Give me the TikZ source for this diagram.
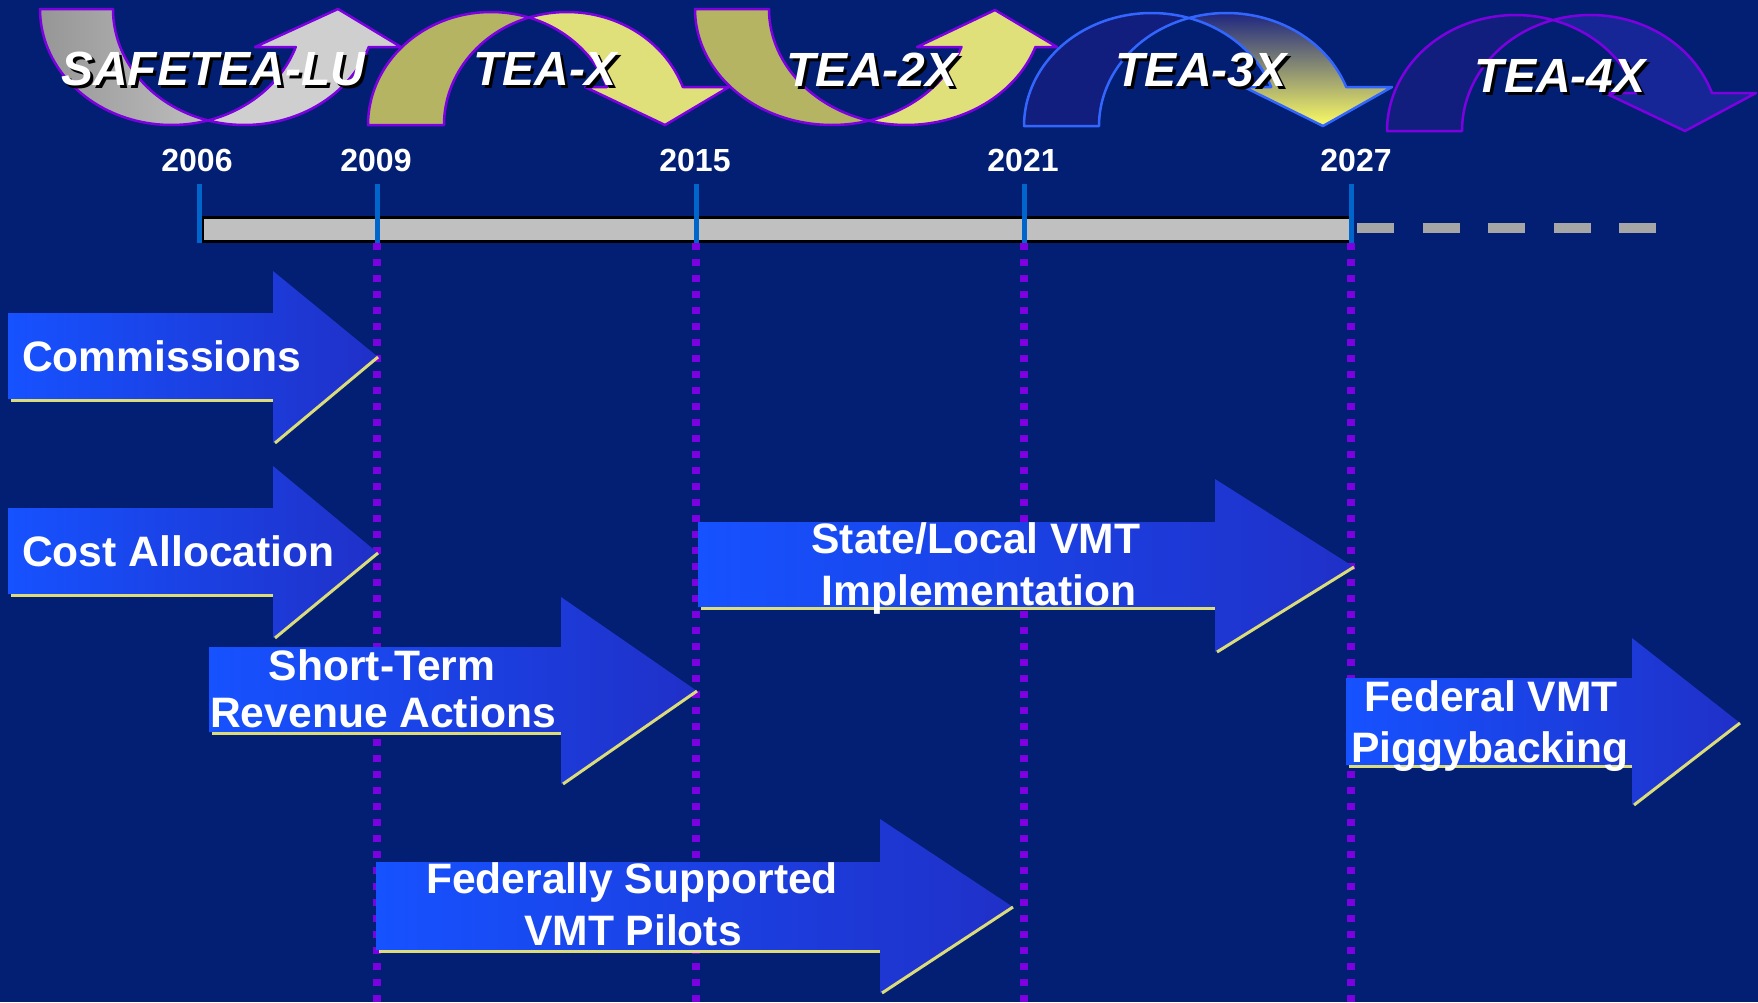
\documentclass[tikz,border=0pt]{standalone}
\usepackage{fontspec}
\setmainfont{Liberation Sans}

\definecolor{bg}{RGB}{2,31,115}
\definecolor{violetline}{RGB}{125,0,225}
\definecolor{blueline}{RGB}{51,102,255}
\definecolor{tickblue}{RGB}{0,102,204}
\definecolor{bargray}{RGB}{192,192,192}
\definecolor{dashgray}{RGB}{166,166,166}
\definecolor{arrowL}{RGB}{22,82,255}
\definecolor{arrowR}{RGB}{32,48,200}
\definecolor{hiyellow}{RGB}{220,220,120}
\definecolor{grayA}{RGB}{150,150,150}
\definecolor{grayB}{RGB}{190,190,190}
\definecolor{grayC}{RGB}{207,207,207}
\definecolor{oliveA}{RGB}{180,180,98}
\definecolor{oliveB}{RGB}{224,224,122}
\definecolor{navyA}{RGB}{18,30,125}
\definecolor{navyB}{RGB}{22,38,150}
\definecolor{glowTop}{RGB}{30,38,128}
\definecolor{glowBot}{RGB}{252,252,100}

% Ribbon arrow built from two equal ellipses shifted by the band width.
% #1 centre x of the left ellipse, #2 y of the open ends, #3 x radius,
% #4 height, #5 band width, #6 +1 for an arch, -1 for a U,
% #7 y of the arrowhead base, #8 arrowhead corners, #9 style family
\newcommand{\ribbonarrow}[9]{%
  \pgfmathsetmacro{\rbP}{acos(#5/(2*#3))}%
  \pgfmathsetmacro{\rbQ}{180-\rbP}%
  \pgfmathsetmacro{\rbH}{asin((#6)*(#2-#7)/#4)}%
  \path[#9 back]
    plot[domain=180:\rbP, samples=48, variable=\t] ({#1+#3*cos(\t)},{#2-(#6)*#4*sin(\t)})
    -- plot[domain=\rbQ:180, samples=48, variable=\t] ({#1+#5+#3*cos(\t)},{#2-(#6)*#4*sin(\t)})
    -- cycle;
  \path[#9 front]
    plot[domain=\rbQ:\rbH, samples=48, variable=\t] ({#1+#5+#3*cos(\t)},{#2-(#6)*#4*sin(\t)})
    -- #8
    -- plot[domain=\rbH:\rbP, samples=48, variable=\t] ({#1+#3*cos(\t)},{#2-(#6)*#4*sin(\t)})
    -- cycle;
}

% Block arrow: #1 left x, #2 body top, #3 body bottom, #4 head x,
% #5 head top, #6 head bottom, #7 tip x, #8 tip y
\newcommand{\blockarrow}[8]{%
  \shade[left color=arrowL, right color=arrowR]
    (#1,#2) -- (#4,#2) -- (#4,#5) -- (#7,#8) -- (#4,#6) -- (#4,#3) -- (#1,#3) -- cycle;
  \draw[hilite] (#1+3,#3+1.5) -- (#4,#3+1.5);
  \draw[hilite] (#4+2,#6) -- (#7,#8);
}

\begin{document}
\begin{tikzpicture}[x=1pt, y=-1pt,
  outline/.style={draw=violetline, line width=2.5pt, line join=round},
  safe back/.style={outline, left color=grayA, right color=grayB},
  safe front/.style={outline, fill=grayC},
  olive back/.style={outline, fill=oliveA},
  olive front/.style={outline, fill=oliveB},
  glow back/.style={draw=blueline, line width=2.5pt, line join=round, fill=navyA},
  glow front/.style={draw=blueline, line width=2.5pt, line join=round, top color=glowTop, bottom color=glowBot},
  deep back/.style={outline, fill=navyA},
  deep front/.style={outline, fill=navyB},
  hilite/.style={draw=hiyellow, line width=3pt},
  tickmark/.style={draw=tickblue, line width=5pt},
  guide/.style={draw=violetline, line width=7.3pt, dash pattern=on 7.3pt off 8.7pt},
  toplbl/.style={font=\bfseries\itshape\fontsize{48}{48}\selectfont, text=white, inner sep=0pt, anchor=base},
  topshadow/.style={toplbl, text=black},
  yearlbl/.style={font=\bfseries\fontsize{32}{32}\selectfont, text=white, inner sep=0pt, anchor=base},
  armlbl/.style={font=\bfseries\fontsize{42.6}{42.6}\selectfont, text=white, inner sep=0pt, anchor=base}
]
% canvas
\fill[bg] (0,0) rectangle (1758,1002);
\useasboundingbox (0,0) rectangle (1758,1002);

% legislation ribbons along the top
\ribbonarrow{171.5}{9}{131.5}{116}{73}{-1}{47}{(401,47) -- (338,9) -- (255,47)}{safe}
\ribbonarrow{491}{125}{123}{113}{76}{1}{87}{(729,87) -- (665,125) -- (585,87)}{olive}
\ribbonarrow{832}{9}{137}{116}{74}{-1}{47}{(1057,47) -- (995,10) -- (917,47)}{olive}
\ribbonarrow{1151.5}{126}{127.5}{113}{75}{1}{87}{(1392,87) -- (1323,126) -- (1244,87)}{glow}
\ribbonarrow{1515.5}{131}{128.5}{116}{75}{1}{93}{(1756,93) -- (1685,131) -- (1605,93)}{deep}

\node[topshadow] (safetea-sh) at (216,88) {SAFETEA-LU};
\node[toplbl]    (safetea)    at (213,85) {SAFETEA-LU};
\node[topshadow] (teax-sh)    at (548,88) {TEA-X};
\node[toplbl]    (teax)       at (545,85) {TEA-X};
\node[topshadow] (tea2x-sh)   at (875,89) {TEA-2X};
\node[toplbl]    (tea2x)      at (872,86) {TEA-2X};
\node[topshadow] (tea3x-sh)   at (1204,89) {TEA-3X};
\node[toplbl]    (tea3x)      at (1201,86) {TEA-3X};
\node[topshadow] (tea4x-sh)   at (1563,95) {TEA-4X};
\node[toplbl]    (tea4x)      at (1560,92) {TEA-4X};

% timeline bar and its dashed continuation
\draw[dashgray, line width=10pt, dash pattern=on 37pt off 28.5pt] (1357,228) -- (1657,228);
\draw[black, line width=3pt, fill=bargray] (202,217.5) rectangle (1351,241.5);

% year marks and guides
\foreach \xx in {377,696,1024,1351}
  \draw[guide] (\xx,243) -- (\xx,1002);
\foreach \xx in {199,377,696,1024,1351}
  \draw[tickmark] (\xx,184) -- (\xx,243);

\node[yearlbl] (y2006) at (197,171) {2006};
\node[yearlbl] (y2009) at (376,171) {2009};
\node[yearlbl] (y2015) at (695,171) {2015};
\node[yearlbl] (y2021) at (1023,171) {2021};
\node[yearlbl] (y2027) at (1356,171) {2027};

% activity arrows
\blockarrow{8}{313}{399}{273}{271}{443}{378}{357}
\blockarrow{8}{508}{594}{273}{466}{638}{378}{553}
\blockarrow{209}{647}{732}{561}{597}{784}{697}{691}
\blockarrow{698}{522}{607}{1215}{479}{652}{1354}{567}
\blockarrow{1346}{678}{765}{1632}{638}{805}{1740}{723}
\blockarrow{376}{862}{950}{880}{819}{993}{1013}{907}

\node[armlbl, anchor=base west] (commissions) at (22,371) {Commissions};
\node[armlbl, anchor=base west] (costalloc)   at (22,566) {Cost Allocation};
\node[armlbl] (shortterm-a) at (382,680) {Short-Term};
\node[armlbl] (shortterm-b) at (383,727) {Revenue Actions};
\node[armlbl] (statelocal-a) at (976,553) {State/Local VMT};
\node[armlbl] (statelocal-b) at (979,605) {Implementation};
\node[armlbl] (fedvmt-a) at (1491,711) {Federal VMT};
\node[armlbl] (fedvmt-b) at (1490,762) {Piggybacking};
\node[armlbl] (pilots-a) at (632,893) {Federally Supported};
\node[armlbl] (pilots-b) at (633,945) {VMT Pilots};
\end{tikzpicture}
\end{document}
